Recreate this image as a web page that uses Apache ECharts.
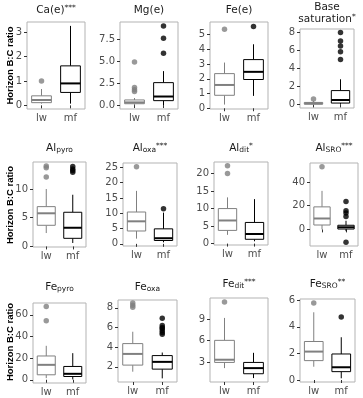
<!DOCTYPE html>
<html>
<head>
<meta charset="utf-8">
<script src="https://cdn.jsdelivr.net/npm/echarts@6/dist/echarts.min.js"></script>
<style>
  html, body { margin: 0; padding: 0; background: #fff; }
  #chart { width: 363px; height: 398px; }
</style>
</head>
<body>
<div id="chart"></div>
<script>
    // groups on the x axis
    var groups = ['lw', 'mf'];

    // panel titles (rich text: sub = subscript, sup = superscript)
    var panelTitles = [
        '{m|Ca(e)}{sup|***}', '{m|Mg(e)}', '{m|Fe(e)}', '{m|Base}\n{m|saturation}{sup|*}',
        '{m|Al}{sub|pyro}', '{m|Al}{sub|oxa}{sup|***}', '{m|Al}{sub|dit}{sup|*}', '{m|Al}{sub|SRO}{sup|***}',
        '{m|Fe}{sub|pyro}', '{m|Fe}{sub|oxa}', '{m|Fe}{sub|dit}{sup|***}', '{m|Fe}{sub|SRO}{sup|**}'
    ];

    // y tick labels per panel
    var yTicks = [
        ['0', '1', '2', '3'], ['0.0', '2.5', '5.0', '7.5'], ['0', '1', '2', '3', '4', '5'], ['0', '2', '4', '6', '8'],
        ['0', '5', '10'], ['0', '5', '10', '15', '20', '25'], ['0', '5', '10', '15', '20'], ['0', '20', '40'],
        ['0', '20', '40', '60'], ['2', '4', '6', '8'], ['3', '6', '9'], ['0', '2', '4', '6']
    ];

    // y axis limits per panel
    var yMin = [-0.15, -0.45, -0.05, -0.4, -0.1, -0.7, -0.4, -14, -3, 0.45, 0.2, -0.15];
    var yMax = [3.42, 9.45, 5.85, 8.4, 14.7, 26.4, 23.3, 56, 71, 8.8, 12, 6.1];

    // box stats: [lower whisker, Q1, median, Q3, upper whisker]
    var lwBoxes = [
        [0.07, 0.11, 0.22, 0.39, 0.67],
        [0.0, 0.15, 0.3, 0.58, 0.8],
        [0.25, 0.88, 1.58, 2.35, 3.1],
        [0.0, 0.03, 0.1, 0.22, 0.4],
        [2.33, 3.68, 5.77, 6.93, 10.0],
        [1.7, 4.2, 7.36, 10.4, 17.3],
        [2.5, 3.77, 6.6, 10.0, 13.2],
        [0.0, 3.7, 9.2, 19.0, 32.5],
        [1.5, 4.6, 13.8, 22.0, 31.4],
        [1.5, 2.17, 3.31, 4.36, 5.57],
        [2.15, 2.95, 3.33, 6.05, 9.2],
        [1.0, 1.46, 2.14, 2.9, 5.1]
    ];
    var mfBoxes = [
        [0.07, 0.53, 0.9, 1.62, 3.26],
        [0.0, 0.5, 0.97, 2.55, 3.86],
        [0.84, 1.95, 2.47, 3.3, 4.34],
        [0.0, 0.15, 0.49, 1.54, 2.8],
        [0.6, 1.41, 3.25, 5.95, 9.0],
        [0.5, 1.1, 1.84, 4.9, 10.2],
        [0.66, 1.23, 2.74, 6.04, 12.7],
        [-1.5, 0.3, 1.8, 3.5, 7.3],
        [0.3, 3.0, 5.5, 12.3, 24.6],
        [0.82, 1.76, 2.5, 3.14, 3.45],
        [0.75, 1.36, 2.15, 2.95, 4.3],
        [0.13, 0.63, 0.96, 1.96, 3.22]
    ];

    // outliers
    var lwOutliers = [
        [1.0], [4.9, 2.0, 1.74, 1.55], [5.36], [0.6],
        [12.1, 13.7, 14.0], [25.2], [20.0, 22.2], [52.8],
        [54.5, 67.7], [8.05, 8.27, 8.5], [11.45], [5.8]
    ];
    var mfOutliers = [
        [], [9.0, 7.6, 5.9], [5.54], [8.0, 7.07, 6.5, 5.86, 5.0],
        [12.9, 13.2, 13.5, 13.9], [11.5], [], [23.5, 15.7, 13.8, 10.9, -10.9],
        [], [5.3, 5.5, 5.7, 5.9, 6.0, 6.2, 6.95], [], [4.74]
    ];

    var groupColors = ['#808080', '#000000'];

    // panel rectangles [left, top, width, height]
    var rects = [
        [27, 22, 58, 87], [120, 22, 58, 87], [210, 22, 58, 87], [300, 29, 54, 79],
        [33, 162, 53, 85], [123, 163, 54, 83], [214, 162, 54, 83], [310, 163, 48, 83],
        [33, 303, 53, 80], [118, 300, 59, 82], [210, 298, 58, 84], [300, 299, 55, 83]
    ];
    var titleY = [10, 10, 10, 13, 148, 148, 148, 148, 287, 287, 284, 284];

    var myChart = echarts.init(document.getElementById('chart'));

    function renderBox(params, api) {
        var x = api.value(0);
        var pLow = api.coord([x, api.value(1)]);
        var pQ1 = api.coord([x, api.value(2)]);
        var pMed = api.coord([x, api.value(3)]);
        var pQ3 = api.coord([x, api.value(4)]);
        var pHigh = api.coord([x, api.value(5)]);
        var w = api.size([1, 0])[0] * 0.68;
        var color = groupColors[x];
        var cx = pMed[0];
        return {
            type: 'group',
            children: [
                { type: 'line', shape: { x1: cx, y1: pHigh[1], x2: cx, y2: pQ3[1] }, style: { stroke: color, lineWidth: 1 } },
                { type: 'line', shape: { x1: cx, y1: pLow[1], x2: cx, y2: pQ1[1] }, style: { stroke: color, lineWidth: 1 } },
                { type: 'rect', shape: { x: cx - w / 2, y: pQ3[1], width: w, height: pQ1[1] - pQ3[1] }, style: { fill: '#fff', stroke: color, lineWidth: 1 } },
                { type: 'line', shape: { x1: cx - w / 2, y1: pMed[1], x2: cx + w / 2, y2: pMed[1] }, style: { stroke: color, lineWidth: 2 } }
            ]
        };
    }

    var grids = [], xAxes = [], yAxes = [], series = [], graphics = [];
    for (var i = 0; i < 12; i++) {
        var r = rects[i];
        grids.push({
            left: r[0], top: r[1], width: r[2], height: r[3],
            show: true, borderColor: '#b3b3b3', borderWidth: 1, backgroundColor: 'transparent'
        });
        xAxes.push({
            type: 'category', gridIndex: i, data: groups,
            axisLine: { show: false },
            axisTick: { show: true, alignWithLabel: true, length: 3, lineStyle: { color: '#333' } },
            axisLabel: { margin: 4, fontSize: 10, color: '#4d4d4d', fontFamily: 'DejaVu Sans' }
        });
        var tickVals = yTicks[i].map(Number);
        var labels = yTicks[i];
        yAxes.push({
            type: 'value', gridIndex: i, min: yMin[i], max: yMax[i],
            splitLine: { show: false },
            axisLine: { show: false },
            axisTick: { show: true, length: 3, customValues: tickVals, lineStyle: { color: '#333' } },
            axisLabel: {
                margin: 5, fontSize: 10, color: '#4d4d4d', fontFamily: 'DejaVu Sans',
                customValues: tickVals,
                formatter: (function (vals, labs) {
                    return function (v) {
                        for (var k = 0; k < vals.length; k++) {
                            if (Math.abs(vals[k] - v) < 1e-9) return labs[k];
                        }
                        return '';
                    };
                })(tickVals, labels)
            }
        });
        series.push({
            type: 'custom', xAxisIndex: i, yAxisIndex: i,
            renderItem: renderBox,
            data: [[0].concat(lwBoxes[i]), [1].concat(mfBoxes[i])],
            z: 2
        });
        series.push({
            type: 'scatter', xAxisIndex: i, yAxisIndex: i, symbolSize: 5.5,
            itemStyle: { color: groupColors[0] }, z: 3,
            data: lwOutliers[i].map(function (v) { return [0, v]; })
        });
        series.push({
            type: 'scatter', xAxisIndex: i, yAxisIndex: i, symbolSize: 5.5,
            itemStyle: { color: groupColors[1] }, z: 3,
            data: mfOutliers[i].map(function (v) { return [1, v]; })
        });
        graphics.push({
            type: 'text', x: r[0] + r[2] / 2, y: titleY[i],
            style: {
                text: panelTitles[i], align: 'center', verticalAlign: 'middle',
                rich: {
                    m: { fontSize: 10.5, fontFamily: 'DejaVu Sans', fill: '#1a1a1a', lineHeight: 12 },
                    sub: { fontSize: 7.5, fontFamily: 'DejaVu Sans', fill: '#1a1a1a', lineHeight: 8, verticalAlign: 'bottom', padding: [3, 0, 0, 0] },
                    sup: { fontSize: 7.5, fontFamily: 'DejaVu Sans', fill: '#1a1a1a', lineHeight: 8, verticalAlign: 'top', padding: [0, 0, 3, 0] }
                }
            }
        });
    }

    // y axis title per row
    var rowCenters = [65.5, 205, 342];
    rowCenters.forEach(function (cy) {
        graphics.push({
            type: 'text', x: 10, y: cy, rotation: Math.PI / 2,
            style: {
                text: 'Horizon B:C ratio', align: 'center', verticalAlign: 'middle',
                fontSize: 9.5, fontWeight: 'bold', fontFamily: 'Liberation Sans', fill: '#000'
            }
        });
    });

    var option = {
        animation: false,
        backgroundColor: '#fff',
        grid: grids,
        xAxis: xAxes,
        yAxis: yAxes,
        series: series,
        graphic: graphics
    };
    myChart.setOption(option);
</script>
</body>
</html>
